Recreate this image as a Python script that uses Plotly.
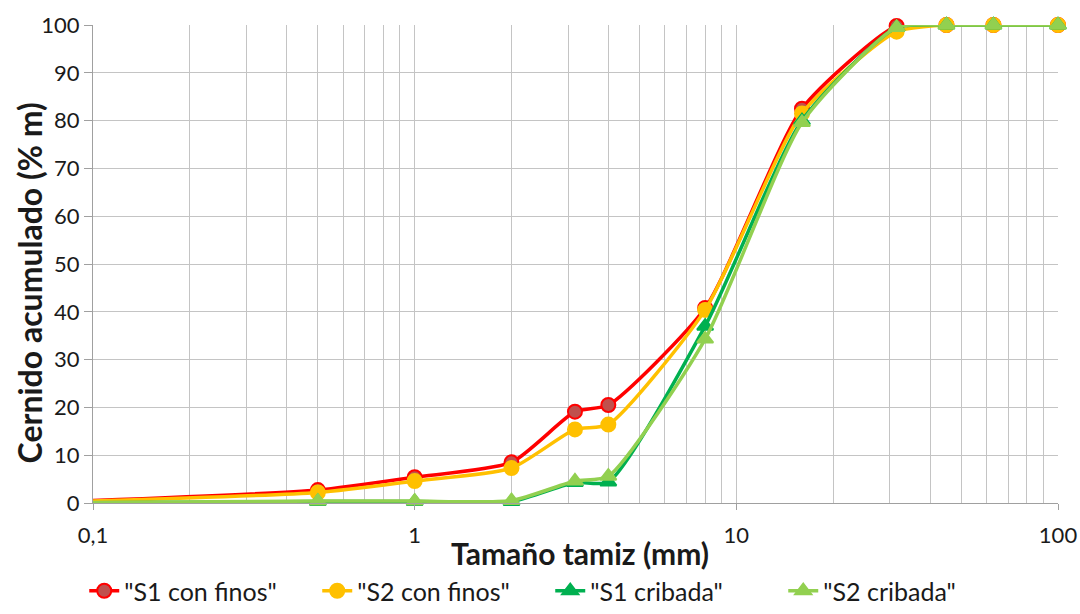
import plotly.graph_objects as go

# Sieve sizes (mm)
sizes = [0.063, 0.5, 1, 2, 3.15, 4, 8, 16, 31.5, 45, 63, 100]

# Cumulative passing (% m)
s1_finos   = [0.0, 2.7, 5.4, 8.5, 19.1, 20.5, 40.8, 82.5, 99.8, 100, 100, 100]
s2_finos   = [0.0, 2.2, 4.6, 7.3, 15.4, 16.4, 40.4, 81.5, 98.6, 100, 100, 100]
s1_cribada = [0.0, 0.3, 0.3, 0.3, 4.3, 4.4, 37.0, 80.0, 99.5, 100, 100, 100]
s2_cribada = [0.0, 0.4, 0.4, 0.5, 4.6, 5.6, 34.3, 79.6, 99.5, 100, 100, 100]

names = ['"S1 con finos"', '"S2 con finos"', '"S1 cribada"', '"S2 cribada"']
series = [s1_finos, s2_finos, s1_cribada, s2_cribada]
line_colors = ["#FF0000", "#FFC000", "#00B050", "#92D050"]
marker_fill = ["#C0504D", "#FFC000", "#00B050", "#92D050"]
symbols = ["circle", "circle", "triangle-up", "triangle-up"]

x_tickvals = [0.1, 1, 10, 100]
x_ticktext = ["0,1", "1", "10", "100"]
minor_vals = [m * d for d in (0.1, 1, 10) for m in range(2, 10)]

x_title = "Tamaño tamiz (mm)"
y_title = "Cernido acumulado (% m)"

fig = go.Figure()
for name, ys, lc, mf, sym in zip(names, series, line_colors, marker_fill, symbols):
    mk = dict(symbol=sym, size=14, color=mf, line=dict(color=lc, width=2))
    # smoothed line, clipped to the plot area
    fig.add_trace(go.Scatter(
        x=sizes, y=ys, name=name, mode="lines",
        line=dict(color=lc, width=3.5, shape="spline", smoothing=0.6),
        cliponaxis=True, legendgroup=name, showlegend=False,
    ))
    # markers, not clipped
    fig.add_trace(go.Scatter(
        x=sizes[1:], y=ys[1:], name=name, mode="markers",
        marker=mk, cliponaxis=False, showlegend=False, legendgroup=name,
    ))

# legend entries (line + marker)
for name, lc, mf, sym in zip(names, line_colors, marker_fill, symbols):
    fig.add_trace(go.Scatter(
        x=[None], y=[None], name=name, mode="lines+markers",
        line=dict(color=lc, width=3.5),
        marker=dict(symbol=sym, size=14, color=mf, line=dict(color=lc, width=2)),
        legendgroup=name,
    ))

font_family = "Lato, Open Sans, sans-serif"
fig.update_layout(
    width=1080, height=614,
    margin=dict(l=93, r=22, t=25, b=111),
    plot_bgcolor="white", paper_bgcolor="white",
    font=dict(family=font_family, color="#1a1a1a"),
    showlegend=True,
    legend=dict(orientation="h", xref="container", x=0.078, xanchor="left",
                yref="container", y=-0.015, yanchor="bottom",
                bgcolor="rgba(0,0,0,0)",
                font=dict(size=25, color="#1a1a1a"),
                traceorder="normal", entrywidth=188, entrywidthmode="pixels"),
    xaxis=dict(
        type="log", range=[-1, 2], automargin=False,
        tickvals=x_tickvals, ticktext=x_ticktext,
        tickfont=dict(size=22, color="#1a1a1a"),
        ticklabelstandoff=6,
        showgrid=True, gridcolor="#C4C4C4", gridwidth=1.3,
        minor=dict(tickvals=minor_vals, showgrid=True, gridcolor="#C4C4C4", gridwidth=1.3,
                   ticks=""),
        showline=True, linecolor="#A0A0A0", linewidth=1.3,
        ticks="outside", ticklen=6, tickcolor="#A0A0A0",
        zeroline=False,
    ),
    yaxis=dict(
        range=[0, 100], dtick=10, automargin=False,
        tickfont=dict(size=22, color="#1a1a1a"),
        showgrid=True, gridcolor="#C4C4C4", gridwidth=1.3,
        showline=True, linecolor="#A0A0A0", linewidth=1.3,
        ticks="outside", ticklen=8, tickcolor="#A0A0A0",
        zeroline=False,
    ),
    annotations=[
        dict(text="<b>" + x_title + "</b>", xref="paper", yref="paper",
             x=0.505, y=-0.105, xanchor="center", yanchor="middle", showarrow=False,
             font=dict(size=30, color="#1a1a1a")),
        dict(text="<b>" + y_title + "</b>", xref="paper", yref="paper",
             x=-0.066, y=0.46, xanchor="center", yanchor="middle", showarrow=False,
             textangle=-90, font=dict(size=32, color="#1a1a1a")),
    ],
)

fig.write_html("out.html", config={"displayModeBar": False},
               post_script="document.body.style.margin='0px';")
